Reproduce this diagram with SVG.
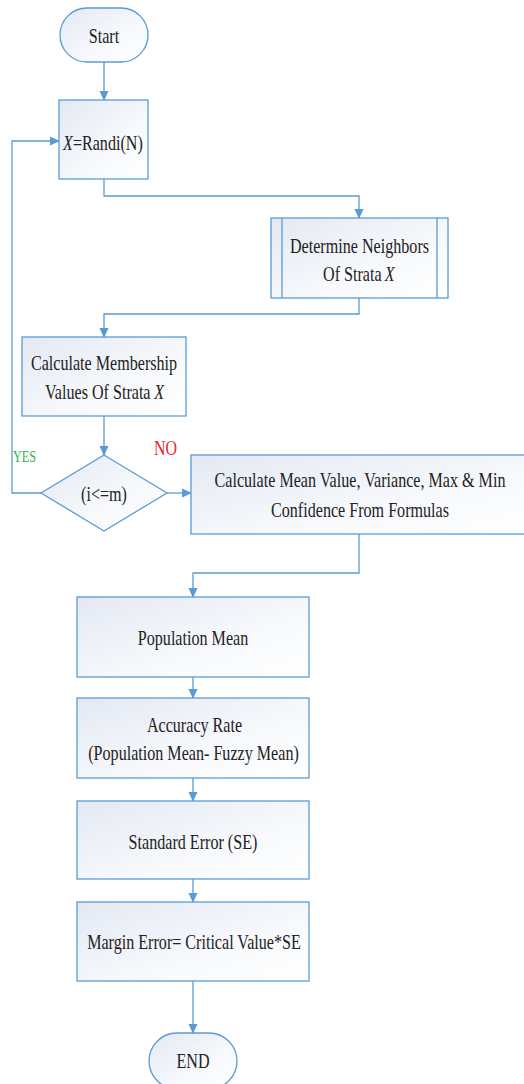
<svg xmlns="http://www.w3.org/2000/svg" width="524" height="1084" viewBox="0 0 524 1084">
<defs>
<linearGradient id="g" x1="0" y1="0" x2="1" y2="1">
<stop offset="0" stop-color="#e3e8f3"/>
<stop offset="0.6" stop-color="#f7f9fc"/>
<stop offset="1" stop-color="#ffffff"/>
</linearGradient>
<marker id="ah" markerWidth="10" markerHeight="10" refX="9" refY="5" orient="auto" markerUnits="userSpaceOnUse">
<path d="M0,0.5 L10,5 L0,9.5 Z" fill="#5b9bd5"/>
</marker>
<style>
.n{fill:url(#g);stroke:#5b9bd5;stroke-width:1.3}
.l{fill:none;stroke:#5b9bd5;stroke-width:1.3}
.c{fill:none;stroke:#5b9bd5;stroke-width:1.3;marker-end:url(#ah)}
.t{font-family:"Liberation Serif","Times New Roman",serif;font-size:21px;fill:#222;text-anchor:middle}
.s{font-family:"Liberation Serif","Times New Roman",serif;font-size:21px;fill:#222;text-anchor:start}
.i{font-style:italic}
</style>
</defs>
<rect width="524" height="1084" fill="#ffffff"/>
<g id="connectors">
<path class="c" d="M104,62 V100"/>
<path class="c" d="M104,179 V196 H359 V218"/>
<path class="c" d="M359,298 V314 H104 V337"/>
<path class="c" d="M104,416 V455"/>
<path class="c" d="M41,493 H12 V141 H59"/>
<path class="c" d="M167,493 H191"/>
<path class="c" d="M359,534 V573 H193 V597"/>
<path class="c" d="M193,677 V698"/>
<path class="c" d="M193,778 V801"/>
<path class="c" d="M193,879 V902"/>
<path class="c" d="M193,981 V1033"/>
</g>
<g id="start">
<rect class="n" x="60" y="8" width="88" height="54" rx="27"/>
<text class="t" transform="translate(104,43) scale(0.767,1)" x="0" y="0">Start</text>
</g>
<g id="randi">
<rect class="n" x="59" y="100" width="89" height="79"/>
<g transform="translate(63,150) scale(0.767,1)">
<text class="s i" x="0" y="0">X</text>
<text class="s" x="12.9" y="0">=Randi(N)</text>
</g>
</g>
<g id="neighbors">
<rect class="n" x="271" y="218" width="177" height="80"/>
<path class="l" d="M282,218 V298 M437,218 V298"/>
<text class="t" transform="translate(359.5,253) scale(0.767,1)" x="0" y="0">Determine Neighbors</text>
<g transform="translate(323,281) scale(0.767,1)">
<text class="s" x="0" y="0">Of Strata</text>
<text class="s i" x="80.5" y="0">X</text>
</g>
</g>
<g id="membership">
<rect class="n" x="22" y="337" width="164" height="79"/>
<text class="t" transform="translate(104,370) scale(0.767,1)" x="0" y="0">Calculate Membership</text>
<g transform="translate(45,399) scale(0.767,1)">
<text class="s" x="0" y="0">Values Of Strata</text>
<text class="s i" x="142.5" y="0">X</text>
</g>
</g>
<g id="decision">
<polygon class="n" points="104,455 167,493 104,531 41,493"/>
<text class="t" transform="translate(104,501) scale(0.767,1)" x="0" y="0">(i&lt;=m)</text>
<text transform="translate(24.5,462) scale(0.76,1)" x="0" y="0" font-family="Liberation Serif, serif" font-size="16" fill="#2db34a" text-anchor="middle">YES</text>
<text transform="translate(165.5,455) scale(0.76,1)" x="0" y="0" font-family="Liberation Serif, serif" font-size="21" fill="#e8262a" text-anchor="middle">NO</text>
</g>
<g id="meanvalue">
<rect class="n" x="191" y="455" width="340" height="79"/>
<text class="t" transform="translate(360,487) scale(0.767,1)" x="0" y="0">Calculate Mean Value, Variance, Max &amp; Min</text>
<text class="t" transform="translate(360,517) scale(0.767,1)" x="0" y="0">Confidence From Formulas</text>
</g>
<g id="popmean">
<rect class="n" x="77" y="597" width="232" height="80"/>
<text class="t" transform="translate(193,645) scale(0.767,1)" x="0" y="0">Population Mean</text>
</g>
<g id="accuracy">
<rect class="n" x="77" y="698" width="232" height="80"/>
<text class="t" transform="translate(194.5,732) scale(0.767,1)" x="0" y="0">Accuracy Rate</text>
<text class="t" transform="translate(193.5,760) scale(0.767,1)" x="0" y="0">(Population Mean- Fuzzy Mean)</text>
</g>
<g id="stderr">
<rect class="n" x="77" y="801" width="232" height="78"/>
<text class="t" transform="translate(193,849) scale(0.767,1)" x="0" y="0">Standard Error (SE)</text>
</g>
<g id="margin">
<rect class="n" x="77" y="902" width="232" height="79"/>
<text class="t" transform="translate(194,949) scale(0.767,1)" x="0" y="0">Margin Error= Critical Value*SE</text>
</g>
<g id="end">
<rect class="n" x="149" y="1033" width="88" height="56" rx="28"/>
<text class="t" transform="translate(193,1068) scale(0.767,1)" x="0" y="0">END</text>
</g>
</svg>
